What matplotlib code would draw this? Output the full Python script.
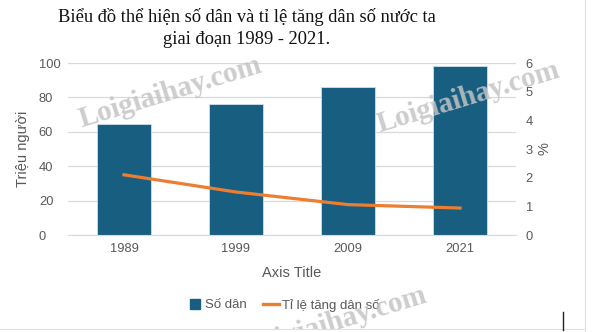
import matplotlib
matplotlib.use("Agg")
import matplotlib.pyplot as plt
from matplotlib.lines import Line2D

years = ["1989", "1999", "2009", "2021"]
population = [64.4, 76.3, 86.0, 98.5]
growth = [2.1, 1.5, 1.06, 0.94]
left_ticks = [0, 20, 40, 60, 80, 100]
right_ticks = [0, 1, 2, 3, 4, 5, 6]

bar_color = "#175E81"
line_color = "#ED7D31"
tick_color = "#595959"

plt.rcParams['font.family'] = ['Liberation Sans', 'DejaVu Sans']

fig = plt.figure(figsize=(5.95, 3.32), dpi=100)
ax = fig.add_axes([68/595, 1-235/332, 448/595, 172/332])
x = range(len(years))
ax.bar(x, population, width=0.49, color=bar_color, edgecolor="#cfe0ea", linewidth=0.6, zorder=2)
ax.set_xlim(-0.5, 3.5)
ax.set_ylim(0, 100)
ax.set_yticks(left_ticks)
ax.set_xticks(list(x))
ax.set_xticklabels(years)
ax.grid(axis="y", color="#d9d9d9", linewidth=0.9, zorder=0)
for s in ["top", "right", "left"]:
    ax.spines[s].set_visible(False)
ax.spines["bottom"].set_color("#d9d9d9")
ax.tick_params(axis="both", length=0, colors=tick_color, labelsize=9.3)
ax.tick_params(axis="y", pad=21)
for lbl in ax.get_yticklabels():
    lbl.set_horizontalalignment("left")
ax.tick_params(axis="x", pad=6)
ax.set_ylabel("Triệu người", color=tick_color, fontsize=10.5, labelpad=6.5)
ax.set_xlabel("Axis Title", color=tick_color, fontsize=10.5, labelpad=8)

ax2 = ax.twinx()
ax2.plot(list(x), growth, color=line_color, linewidth=2.3, zorder=3)
ax2.set_ylim(0, 6)
ax2.set_yticks(right_ticks)
for s in ["top", "right", "left", "bottom"]:
    ax2.spines[s].set_visible(False)
ax2.tick_params(axis="y", length=0, colors=tick_color, labelsize=9.3, pad=7)
ax2.set_ylabel("%", color=tick_color, fontsize=10.5, labelpad=3)

serif = ["Liberation Serif", "DejaVu Serif"]
fig.text(247/595, 1-17/332, "Biểu đồ thể hiện số dân và tỉ lệ tăng dân số nước ta", ha="center", va="center",
         fontsize=13.3, family=serif, color="#111111")
fig.text(247/595, 1-40/332, "giai đoạn 1989 - 2021.", ha="center", va="center",
         fontsize=13.3, family=serif, color="#111111")

handles = [Line2D([0], [0], marker="s", linestyle="none", markersize=7.5, color=bar_color),
           Line2D([0], [0], color=line_color, linewidth=2.4)]
fig.legend(handles, ["Số dân", "Tỉ lệ tăng dân số"], loc="center", bbox_to_anchor=(283/595, 1-305/332),
           ncol=2, frameon=False, fontsize=9.5, labelcolor=tick_color, handlelength=1.2,
           handletextpad=0.2, columnspacing=1.2)

# watermarks
wm_axes = fig.add_axes([0, 1-329/332, 585/595, 329/332], zorder=10)
wm_axes.set_axis_off()
wm_axes.set_xlim(0, 585)
wm_axes.set_ylim(329, 0)
for (wx, wy) in [(170, 92), (468, 97), (335, 322)]:
    wm_axes.text(wx, wy, "Loigiaihay.com", ha="center", va="center", rotation=17, fontsize=21,
                 family=serif, fontweight="bold", color="#c4c4c4", alpha=0.85, clip_on=True)

# frame lines
fig.add_artist(Line2D([585/595, 585/595], [0, 1], color="#e0e0e0", linewidth=0.8))
fig.add_artist(Line2D([0, 585/595], [1-329/332, 1-329/332], color="#e0e0e0", linewidth=0.8))
fig.add_artist(Line2D([563/595, 563/595], [1-330/332, 1-312/332], color="#222222", linewidth=1.0))

fig.savefig("out.png", dpi=100)
